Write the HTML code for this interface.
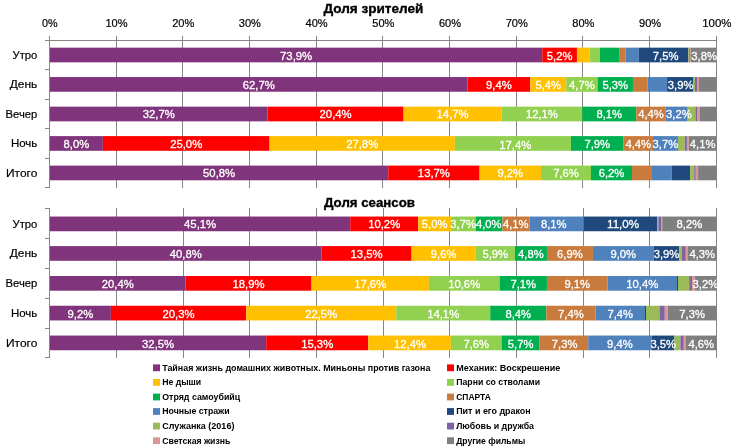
<!DOCTYPE html><html lang="ru"><head><meta charset="utf-8"><title>Доля зрителей и сеансов</title>
<style>html,body{margin:0;padding:0;background:#fff;overflow:hidden}svg{display:block}text{font-family:"Liberation Sans", sans-serif}text{stroke:#000;stroke-width:.2px}.l{font-size:11.4px;fill:#fff;text-anchor:middle;stroke:#fff;stroke-width:.3px}.t{font-size:13.5px;font-weight:bold;fill:#000;text-anchor:middle;stroke-width:.35px}.g{font-size:9.6px;font-weight:bold;fill:#000;stroke:none}.c{font-size:11.4px;fill:#000;text-anchor:end}.x{font-size:11.4px;fill:#000;text-anchor:middle}</style></head><body>
<svg width="733" height="448" viewBox="0 0 733 448">
<rect width="733" height="448" fill="#fff"/>
<text class="t" x="373.4" y="12.8" textLength="100" lengthAdjust="spacingAndGlyphs">Доля зрителей</text>
<text class="x" x="49.8" y="27" textLength="15.6" lengthAdjust="spacingAndGlyphs">0%</text>
<text class="x" x="116.5" y="27" textLength="22.1" lengthAdjust="spacingAndGlyphs">10%</text>
<text class="x" x="183.2" y="27" textLength="22.1" lengthAdjust="spacingAndGlyphs">20%</text>
<text class="x" x="249.9" y="27" textLength="22.1" lengthAdjust="spacingAndGlyphs">30%</text>
<text class="x" x="316.6" y="27" textLength="22.1" lengthAdjust="spacingAndGlyphs">40%</text>
<text class="x" x="383.3" y="27" textLength="22.1" lengthAdjust="spacingAndGlyphs">50%</text>
<text class="x" x="450.0" y="27" textLength="22.1" lengthAdjust="spacingAndGlyphs">60%</text>
<text class="x" x="516.7" y="27" textLength="22.1" lengthAdjust="spacingAndGlyphs">70%</text>
<text class="x" x="583.4" y="27" textLength="22.1" lengthAdjust="spacingAndGlyphs">80%</text>
<text class="x" x="650.1" y="27" textLength="22.1" lengthAdjust="spacingAndGlyphs">90%</text>
<text class="x" x="716.8" y="27" textLength="29.2" lengthAdjust="spacingAndGlyphs">100%</text>
<line x1="49.5" y1="36.0" x2="49.5" y2="188.0" stroke="#868686" stroke-width="1"/>
<line x1="116.5" y1="36.0" x2="116.5" y2="188.0" stroke="#868686" stroke-width="1"/>
<line x1="182.5" y1="36.0" x2="182.5" y2="188.0" stroke="#868686" stroke-width="1"/>
<line x1="249.5" y1="36.0" x2="249.5" y2="188.0" stroke="#868686" stroke-width="1"/>
<line x1="316.5" y1="36.0" x2="316.5" y2="188.0" stroke="#868686" stroke-width="1"/>
<line x1="382.5" y1="36.0" x2="382.5" y2="188.0" stroke="#868686" stroke-width="1"/>
<line x1="449.5" y1="36.0" x2="449.5" y2="188.0" stroke="#868686" stroke-width="1"/>
<line x1="516.5" y1="36.0" x2="516.5" y2="188.0" stroke="#868686" stroke-width="1"/>
<line x1="582.5" y1="36.0" x2="582.5" y2="188.0" stroke="#868686" stroke-width="1"/>
<line x1="649.5" y1="36.0" x2="649.5" y2="188.0" stroke="#868686" stroke-width="1"/>
<line x1="716.5" y1="36.0" x2="716.5" y2="188.0" stroke="#868686" stroke-width="1"/>
<line x1="49" y1="40.5" x2="717" y2="40.5" stroke="#868686" stroke-width="1"/>
<line x1="45" y1="40.5" x2="50" y2="40.5" stroke="#868686" stroke-width="1"/>
<line x1="45" y1="69.5" x2="50" y2="69.5" stroke="#868686" stroke-width="1"/>
<line x1="45" y1="99.5" x2="50" y2="99.5" stroke="#868686" stroke-width="1"/>
<line x1="45" y1="128.5" x2="50" y2="128.5" stroke="#868686" stroke-width="1"/>
<line x1="45" y1="158.5" x2="50" y2="158.5" stroke="#868686" stroke-width="1"/>
<line x1="45" y1="187.5" x2="50" y2="187.5" stroke="#868686" stroke-width="1"/>
<rect x="50.00" y="47.65" width="492.27" height="14.7" fill="#80347B"/>
<rect x="542.27" y="47.65" width="34.67" height="14.7" fill="#FF0000"/>
<rect x="576.94" y="47.65" width="12.66" height="14.7" fill="#FFC000"/>
<rect x="589.60" y="47.65" width="10.30" height="14.7" fill="#92D050"/>
<rect x="599.90" y="47.65" width="19.20" height="14.7" fill="#00B050"/>
<rect x="619.10" y="47.65" width="6.30" height="14.7" fill="#C87B3C"/>
<rect x="625.40" y="47.65" width="13.40" height="14.7" fill="#4F81BD"/>
<rect x="638.80" y="47.65" width="49.60" height="14.7" fill="#1F497D"/>
<rect x="688.40" y="47.65" width="0.80" height="14.7" fill="#9BBB59"/>
<rect x="689.20" y="47.65" width="0.80" height="14.7" fill="#8064A2"/>
<rect x="690.00" y="47.65" width="0.90" height="14.7" fill="#D99694"/>
<rect x="690.90" y="47.65" width="25.60" height="14.7" fill="#7F7F7F"/>
<text class="l" x="296.1" y="60.0" textLength="32.1" lengthAdjust="spacingAndGlyphs">73,9%</text>
<text class="l" x="559.6" y="60.0" textLength="25.6" lengthAdjust="spacingAndGlyphs">5,2%</text>
<text class="l" x="665.6" y="60.0" textLength="25.6" lengthAdjust="spacingAndGlyphs">7,5%</text>
<text class="l" x="704.1" y="60.0" textLength="25.6" lengthAdjust="spacingAndGlyphs">3,8%</text>
<text class="c" x="37.3" y="59.3" textLength="24.8" lengthAdjust="spacingAndGlyphs">Утро</text>
<rect x="50.00" y="77.05" width="417.58" height="14.7" fill="#80347B"/>
<rect x="467.58" y="77.05" width="62.68" height="14.7" fill="#FF0000"/>
<rect x="530.26" y="77.05" width="36.01" height="14.7" fill="#FFC000"/>
<rect x="566.27" y="77.05" width="31.34" height="14.7" fill="#92D050"/>
<rect x="597.61" y="77.05" width="35.34" height="14.7" fill="#00B050"/>
<rect x="632.95" y="77.05" width="14.55" height="14.7" fill="#C87B3C"/>
<rect x="647.50" y="77.05" width="19.60" height="14.7" fill="#4F81BD"/>
<rect x="667.10" y="77.05" width="25.90" height="14.7" fill="#1F497D"/>
<rect x="693.00" y="77.05" width="2.00" height="14.7" fill="#9BBB59"/>
<rect x="695.00" y="77.05" width="2.00" height="14.7" fill="#8064A2"/>
<rect x="697.00" y="77.05" width="2.00" height="14.7" fill="#D99694"/>
<rect x="699.00" y="77.05" width="17.50" height="14.7" fill="#7F7F7F"/>
<text class="l" x="258.8" y="89.0" textLength="32.1" lengthAdjust="spacingAndGlyphs">62,7%</text>
<text class="l" x="498.9" y="89.0" textLength="25.6" lengthAdjust="spacingAndGlyphs">9,4%</text>
<text class="l" x="548.3" y="89.0" textLength="25.6" lengthAdjust="spacingAndGlyphs">5,4%</text>
<text class="l" x="581.9" y="89.0" textLength="25.6" lengthAdjust="spacingAndGlyphs">4,7%</text>
<text class="l" x="615.3" y="89.0" textLength="25.6" lengthAdjust="spacingAndGlyphs">5,3%</text>
<text class="l" x="680.6" y="89.0" textLength="25.6" lengthAdjust="spacingAndGlyphs">3,9%</text>
<text class="c" x="37.3" y="87.8" textLength="27.6" lengthAdjust="spacingAndGlyphs">День</text>
<rect x="50.00" y="106.65" width="217.54" height="14.7" fill="#80347B"/>
<rect x="267.54" y="106.65" width="136.03" height="14.7" fill="#FF0000"/>
<rect x="403.57" y="106.65" width="98.02" height="14.7" fill="#FFC000"/>
<rect x="501.59" y="106.65" width="80.68" height="14.7" fill="#92D050"/>
<rect x="582.27" y="106.65" width="54.01" height="14.7" fill="#00B050"/>
<rect x="636.28" y="106.65" width="29.34" height="14.7" fill="#C87B3C"/>
<rect x="665.62" y="106.65" width="21.88" height="14.7" fill="#4F81BD"/>
<rect x="687.50" y="106.65" width="0.20" height="14.7" fill="#1F497D"/>
<rect x="687.70" y="106.65" width="7.70" height="14.7" fill="#9BBB59"/>
<rect x="695.40" y="106.65" width="1.60" height="14.7" fill="#8064A2"/>
<rect x="697.00" y="106.65" width="3.00" height="14.7" fill="#D99694"/>
<rect x="700.00" y="106.65" width="16.50" height="14.7" fill="#7F7F7F"/>
<text class="l" x="158.8" y="118.0" textLength="32.1" lengthAdjust="spacingAndGlyphs">32,7%</text>
<text class="l" x="335.6" y="118.0" textLength="32.1" lengthAdjust="spacingAndGlyphs">20,4%</text>
<text class="l" x="452.6" y="118.0" textLength="32.1" lengthAdjust="spacingAndGlyphs">14,7%</text>
<text class="l" x="541.9" y="118.0" textLength="32.1" lengthAdjust="spacingAndGlyphs">12,1%</text>
<text class="l" x="609.3" y="118.0" textLength="25.6" lengthAdjust="spacingAndGlyphs">8,1%</text>
<text class="l" x="651.0" y="118.0" textLength="25.6" lengthAdjust="spacingAndGlyphs">4,4%</text>
<text class="l" x="678.9" y="118.0" textLength="25.6" lengthAdjust="spacingAndGlyphs">3,2%</text>
<text class="c" x="37.3" y="118.1" textLength="31.8" lengthAdjust="spacingAndGlyphs">Вечер</text>
<rect x="50.00" y="136.10" width="52.84" height="14.7" fill="#80347B"/>
<rect x="102.84" y="136.10" width="166.70" height="14.7" fill="#FF0000"/>
<rect x="269.54" y="136.10" width="185.37" height="14.7" fill="#FFC000"/>
<rect x="454.91" y="136.10" width="116.02" height="14.7" fill="#92D050"/>
<rect x="570.94" y="136.10" width="52.68" height="14.7" fill="#00B050"/>
<rect x="623.61" y="136.10" width="29.34" height="14.7" fill="#C87B3C"/>
<rect x="652.95" y="136.10" width="24.95" height="14.7" fill="#4F81BD"/>
<rect x="677.90" y="136.10" width="0.10" height="14.7" fill="#1F497D"/>
<rect x="678.00" y="136.10" width="6.80" height="14.7" fill="#9BBB59"/>
<rect x="684.80" y="136.10" width="2.10" height="14.7" fill="#8064A2"/>
<rect x="686.90" y="136.10" width="1.90" height="14.7" fill="#D99694"/>
<rect x="688.80" y="136.10" width="27.70" height="14.7" fill="#7F7F7F"/>
<text class="l" x="76.4" y="148.0" textLength="25.6" lengthAdjust="spacingAndGlyphs">8,0%</text>
<text class="l" x="186.2" y="148.0" textLength="32.1" lengthAdjust="spacingAndGlyphs">25,0%</text>
<text class="l" x="362.2" y="148.0" textLength="32.1" lengthAdjust="spacingAndGlyphs">27,8%</text>
<text class="l" x="515.3" y="149.0" textLength="32.1" lengthAdjust="spacingAndGlyphs">17,4%</text>
<text class="l" x="597.3" y="148.0" textLength="25.6" lengthAdjust="spacingAndGlyphs">7,9%</text>
<text class="l" x="638.3" y="148.0" textLength="25.6" lengthAdjust="spacingAndGlyphs">4,4%</text>
<text class="l" x="665.4" y="148.0" textLength="25.6" lengthAdjust="spacingAndGlyphs">3,7%</text>
<text class="l" x="702.6" y="148.0" textLength="25.6" lengthAdjust="spacingAndGlyphs">4,1%</text>
<text class="c" x="37.3" y="146.7" textLength="26.4" lengthAdjust="spacingAndGlyphs">Ночь</text>
<rect x="50.00" y="165.60" width="338.23" height="14.7" fill="#80347B"/>
<rect x="388.23" y="165.60" width="91.35" height="14.7" fill="#FF0000"/>
<rect x="479.59" y="165.60" width="61.35" height="14.7" fill="#FFC000"/>
<rect x="540.93" y="165.60" width="50.07" height="14.7" fill="#92D050"/>
<rect x="591.00" y="165.60" width="41.00" height="14.7" fill="#00B050"/>
<rect x="632.00" y="165.60" width="20.00" height="14.7" fill="#C87B3C"/>
<rect x="652.00" y="165.60" width="19.80" height="14.7" fill="#4F81BD"/>
<rect x="671.80" y="165.60" width="18.30" height="14.7" fill="#1F497D"/>
<rect x="690.10" y="165.60" width="4.10" height="14.7" fill="#9BBB59"/>
<rect x="694.20" y="165.60" width="1.60" height="14.7" fill="#8064A2"/>
<rect x="695.80" y="165.60" width="2.30" height="14.7" fill="#D99694"/>
<rect x="698.10" y="165.60" width="18.40" height="14.7" fill="#7F7F7F"/>
<text class="l" x="219.1" y="177.0" textLength="32.1" lengthAdjust="spacingAndGlyphs">50,8%</text>
<text class="l" x="433.9" y="177.0" textLength="32.1" lengthAdjust="spacingAndGlyphs">13,7%</text>
<text class="l" x="510.3" y="177.0" textLength="25.6" lengthAdjust="spacingAndGlyphs">9,2%</text>
<text class="l" x="566.0" y="177.0" textLength="25.6" lengthAdjust="spacingAndGlyphs">7,6%</text>
<text class="l" x="611.5" y="177.0" textLength="25.6" lengthAdjust="spacingAndGlyphs">6,2%</text>
<text class="c" x="37.3" y="176.9" textLength="31.3" lengthAdjust="spacingAndGlyphs">Итого</text>
<text class="t" x="369.5" y="206.8" textLength="91" lengthAdjust="spacingAndGlyphs">Доля сеансов</text>
<line x1="49.5" y1="208.0" x2="49.5" y2="358.0" stroke="#868686" stroke-width="1"/>
<line x1="116.5" y1="208.0" x2="116.5" y2="358.0" stroke="#868686" stroke-width="1"/>
<line x1="183.5" y1="208.0" x2="183.5" y2="358.0" stroke="#868686" stroke-width="1"/>
<line x1="249.5" y1="208.0" x2="249.5" y2="358.0" stroke="#868686" stroke-width="1"/>
<line x1="316.5" y1="208.0" x2="316.5" y2="358.0" stroke="#868686" stroke-width="1"/>
<line x1="383.5" y1="208.0" x2="383.5" y2="358.0" stroke="#868686" stroke-width="1"/>
<line x1="449.5" y1="208.0" x2="449.5" y2="358.0" stroke="#868686" stroke-width="1"/>
<line x1="516.5" y1="208.0" x2="516.5" y2="358.0" stroke="#868686" stroke-width="1"/>
<line x1="583.5" y1="208.0" x2="583.5" y2="358.0" stroke="#868686" stroke-width="1"/>
<line x1="649.5" y1="208.0" x2="649.5" y2="358.0" stroke="#868686" stroke-width="1"/>
<line x1="716.5" y1="208.0" x2="716.5" y2="358.0" stroke="#868686" stroke-width="1"/>
<line x1="45" y1="208.5" x2="50" y2="208.5" stroke="#868686" stroke-width="1"/>
<line x1="45" y1="238.5" x2="50" y2="238.5" stroke="#868686" stroke-width="1"/>
<line x1="45" y1="268.5" x2="50" y2="268.5" stroke="#868686" stroke-width="1"/>
<line x1="45" y1="298.5" x2="50" y2="298.5" stroke="#868686" stroke-width="1"/>
<line x1="45" y1="328.5" x2="50" y2="328.5" stroke="#868686" stroke-width="1"/>
<line x1="45" y1="357.5" x2="50" y2="357.5" stroke="#868686" stroke-width="1"/>
<rect x="50.00" y="216.55" width="300.23" height="14.7" fill="#80347B"/>
<rect x="350.23" y="216.55" width="68.01" height="14.7" fill="#FF0000"/>
<rect x="418.24" y="216.55" width="32.76" height="14.7" fill="#FFC000"/>
<rect x="451.00" y="216.55" width="24.80" height="14.7" fill="#92D050"/>
<rect x="475.80" y="216.55" width="26.60" height="14.7" fill="#00B050"/>
<rect x="502.40" y="216.55" width="27.20" height="14.7" fill="#C87B3C"/>
<rect x="529.60" y="216.55" width="54.10" height="14.7" fill="#4F81BD"/>
<rect x="583.70" y="216.55" width="73.40" height="14.7" fill="#1F497D"/>
<rect x="657.10" y="216.55" width="1.20" height="14.7" fill="#9BBB59"/>
<rect x="658.30" y="216.55" width="2.70" height="14.7" fill="#8064A2"/>
<rect x="661.00" y="216.55" width="1.20" height="14.7" fill="#D99694"/>
<rect x="662.20" y="216.55" width="54.30" height="14.7" fill="#7F7F7F"/>
<text class="l" x="200.1" y="228.0" textLength="32.1" lengthAdjust="spacingAndGlyphs">45,1%</text>
<text class="l" x="384.2" y="228.0" textLength="32.1" lengthAdjust="spacingAndGlyphs">10,2%</text>
<text class="l" x="434.6" y="228.0" textLength="25.6" lengthAdjust="spacingAndGlyphs">5,0%</text>
<text class="l" x="463.1" y="228.0" textLength="25.6" lengthAdjust="spacingAndGlyphs">3,7%</text>
<text class="l" x="488.8" y="228.0" textLength="25.6" lengthAdjust="spacingAndGlyphs">4,0%</text>
<text class="l" x="515.7" y="228.0" textLength="25.6" lengthAdjust="spacingAndGlyphs">4,1%</text>
<text class="l" x="553.7" y="228.0" textLength="25.6" lengthAdjust="spacingAndGlyphs">8,1%</text>
<text class="l" x="623.1" y="228.0" textLength="32.1" lengthAdjust="spacingAndGlyphs">11,0%</text>
<text class="l" x="689.4" y="228.0" textLength="25.6" lengthAdjust="spacingAndGlyphs">8,2%</text>
<text class="c" x="37.3" y="227.5" textLength="24.8" lengthAdjust="spacingAndGlyphs">Утро</text>
<rect x="50.00" y="246.10" width="271.55" height="14.7" fill="#80347B"/>
<rect x="321.55" y="246.10" width="90.02" height="14.7" fill="#FF0000"/>
<rect x="411.57" y="246.10" width="64.01" height="14.7" fill="#FFC000"/>
<rect x="475.59" y="246.10" width="39.34" height="14.7" fill="#92D050"/>
<rect x="514.93" y="246.10" width="32.01" height="14.7" fill="#00B050"/>
<rect x="546.93" y="246.10" width="46.01" height="14.7" fill="#C87B3C"/>
<rect x="592.94" y="246.10" width="60.76" height="14.7" fill="#4F81BD"/>
<rect x="653.70" y="246.10" width="25.50" height="14.7" fill="#1F497D"/>
<rect x="679.20" y="246.10" width="2.60" height="14.7" fill="#9BBB59"/>
<rect x="681.80" y="246.10" width="4.00" height="14.7" fill="#8064A2"/>
<rect x="685.80" y="246.10" width="2.20" height="14.7" fill="#D99694"/>
<rect x="688.00" y="246.10" width="28.50" height="14.7" fill="#7F7F7F"/>
<text class="l" x="185.8" y="258.0" textLength="32.1" lengthAdjust="spacingAndGlyphs">40,8%</text>
<text class="l" x="366.6" y="258.0" textLength="32.1" lengthAdjust="spacingAndGlyphs">13,5%</text>
<text class="l" x="443.6" y="258.0" textLength="25.6" lengthAdjust="spacingAndGlyphs">9,6%</text>
<text class="l" x="495.3" y="258.0" textLength="25.6" lengthAdjust="spacingAndGlyphs">5,9%</text>
<text class="l" x="530.9" y="258.0" textLength="25.6" lengthAdjust="spacingAndGlyphs">4,8%</text>
<text class="l" x="569.9" y="258.0" textLength="25.6" lengthAdjust="spacingAndGlyphs">6,9%</text>
<text class="l" x="623.3" y="258.0" textLength="25.6" lengthAdjust="spacingAndGlyphs">9,0%</text>
<text class="l" x="666.5" y="258.0" textLength="25.6" lengthAdjust="spacingAndGlyphs">3,9%</text>
<text class="l" x="702.2" y="258.0" textLength="25.6" lengthAdjust="spacingAndGlyphs">4,3%</text>
<text class="c" x="37.3" y="257.4" textLength="27.6" lengthAdjust="spacingAndGlyphs">День</text>
<rect x="50.00" y="276.00" width="135.53" height="14.7" fill="#80347B"/>
<rect x="185.53" y="276.00" width="126.03" height="14.7" fill="#FF0000"/>
<rect x="311.55" y="276.00" width="117.36" height="14.7" fill="#FFC000"/>
<rect x="428.91" y="276.00" width="70.68" height="14.7" fill="#92D050"/>
<rect x="499.59" y="276.00" width="47.34" height="14.7" fill="#00B050"/>
<rect x="546.93" y="276.00" width="60.68" height="14.7" fill="#C87B3C"/>
<rect x="607.61" y="276.00" width="69.39" height="14.7" fill="#4F81BD"/>
<rect x="677.00" y="276.00" width="1.00" height="14.7" fill="#1F497D"/>
<rect x="678.00" y="276.00" width="11.20" height="14.7" fill="#9BBB59"/>
<rect x="689.20" y="276.00" width="2.90" height="14.7" fill="#8064A2"/>
<rect x="692.10" y="276.00" width="2.70" height="14.7" fill="#D99694"/>
<rect x="694.80" y="276.00" width="21.70" height="14.7" fill="#7F7F7F"/>
<text class="l" x="117.8" y="288.0" textLength="32.1" lengthAdjust="spacingAndGlyphs">20,4%</text>
<text class="l" x="248.5" y="288.0" textLength="32.1" lengthAdjust="spacingAndGlyphs">18,9%</text>
<text class="l" x="370.2" y="288.0" textLength="32.1" lengthAdjust="spacingAndGlyphs">17,6%</text>
<text class="l" x="464.2" y="288.0" textLength="32.1" lengthAdjust="spacingAndGlyphs">10,6%</text>
<text class="l" x="523.3" y="288.0" textLength="25.6" lengthAdjust="spacingAndGlyphs">7,1%</text>
<text class="l" x="577.3" y="288.0" textLength="25.6" lengthAdjust="spacingAndGlyphs">9,1%</text>
<text class="l" x="642.3" y="288.0" textLength="32.1" lengthAdjust="spacingAndGlyphs">10,4%</text>
<text class="l" x="705.4" y="288.0" textLength="25.6" lengthAdjust="spacingAndGlyphs">3,2%</text>
<text class="c" x="37.3" y="287.3" textLength="31.8" lengthAdjust="spacingAndGlyphs">Вечер</text>
<rect x="50.00" y="305.75" width="60.85" height="14.7" fill="#80347B"/>
<rect x="110.85" y="305.75" width="135.36" height="14.7" fill="#FF0000"/>
<rect x="246.21" y="305.75" width="150.03" height="14.7" fill="#FFC000"/>
<rect x="396.24" y="305.75" width="94.02" height="14.7" fill="#92D050"/>
<rect x="490.25" y="305.75" width="56.01" height="14.7" fill="#00B050"/>
<rect x="546.27" y="305.75" width="49.34" height="14.7" fill="#C87B3C"/>
<rect x="595.61" y="305.75" width="49.39" height="14.7" fill="#4F81BD"/>
<rect x="645.00" y="305.75" width="1.00" height="14.7" fill="#1F497D"/>
<rect x="646.00" y="305.75" width="13.50" height="14.7" fill="#9BBB59"/>
<rect x="659.50" y="305.75" width="5.30" height="14.7" fill="#8064A2"/>
<rect x="664.80" y="305.75" width="3.00" height="14.7" fill="#D99694"/>
<rect x="667.80" y="305.75" width="48.70" height="14.7" fill="#7F7F7F"/>
<text class="l" x="80.4" y="318.0" textLength="25.6" lengthAdjust="spacingAndGlyphs">9,2%</text>
<text class="l" x="178.5" y="318.0" textLength="32.1" lengthAdjust="spacingAndGlyphs">20,3%</text>
<text class="l" x="321.2" y="318.0" textLength="32.1" lengthAdjust="spacingAndGlyphs">22,5%</text>
<text class="l" x="443.2" y="318.0" textLength="32.1" lengthAdjust="spacingAndGlyphs">14,1%</text>
<text class="l" x="518.3" y="318.0" textLength="25.6" lengthAdjust="spacingAndGlyphs">8,4%</text>
<text class="l" x="570.9" y="318.0" textLength="25.6" lengthAdjust="spacingAndGlyphs">7,4%</text>
<text class="l" x="620.3" y="318.0" textLength="25.6" lengthAdjust="spacingAndGlyphs">7,4%</text>
<text class="l" x="692.1" y="318.0" textLength="25.6" lengthAdjust="spacingAndGlyphs">7,3%</text>
<text class="c" x="37.3" y="317.2" textLength="26.4" lengthAdjust="spacingAndGlyphs">Ночь</text>
<rect x="50.00" y="335.55" width="216.21" height="14.7" fill="#80347B"/>
<rect x="266.21" y="335.55" width="102.02" height="14.7" fill="#FF0000"/>
<rect x="368.23" y="335.55" width="82.68" height="14.7" fill="#FFC000"/>
<rect x="450.91" y="335.55" width="50.68" height="14.7" fill="#92D050"/>
<rect x="501.59" y="335.55" width="38.01" height="14.7" fill="#00B050"/>
<rect x="539.60" y="335.55" width="48.68" height="14.7" fill="#C87B3C"/>
<rect x="588.27" y="335.55" width="63.33" height="14.7" fill="#4F81BD"/>
<rect x="651.60" y="335.55" width="22.80" height="14.7" fill="#1F497D"/>
<rect x="674.40" y="335.55" width="6.00" height="14.7" fill="#9BBB59"/>
<rect x="680.40" y="335.55" width="3.40" height="14.7" fill="#8064A2"/>
<rect x="683.80" y="335.55" width="2.20" height="14.7" fill="#D99694"/>
<rect x="686.00" y="335.55" width="30.50" height="14.7" fill="#7F7F7F"/>
<text class="l" x="158.1" y="348.0" textLength="32.1" lengthAdjust="spacingAndGlyphs">32,5%</text>
<text class="l" x="317.2" y="348.0" textLength="32.1" lengthAdjust="spacingAndGlyphs">15,3%</text>
<text class="l" x="410.0" y="348.0" textLength="32.1" lengthAdjust="spacingAndGlyphs">12,4%</text>
<text class="l" x="476.3" y="348.0" textLength="25.6" lengthAdjust="spacingAndGlyphs">7,6%</text>
<text class="l" x="520.6" y="348.0" textLength="25.6" lengthAdjust="spacingAndGlyphs">5,7%</text>
<text class="l" x="564.6" y="348.0" textLength="25.6" lengthAdjust="spacingAndGlyphs">7,3%</text>
<text class="l" x="619.9" y="348.0" textLength="25.6" lengthAdjust="spacingAndGlyphs">9,4%</text>
<text class="l" x="663.3" y="348.0" textLength="25.6" lengthAdjust="spacingAndGlyphs">3,5%</text>
<text class="l" x="701.2" y="348.0" textLength="25.6" lengthAdjust="spacingAndGlyphs">4,6%</text>
<text class="c" x="37.3" y="347.1" textLength="31.3" lengthAdjust="spacingAndGlyphs">Итого</text>
<rect x="153" y="364.4" width="7" height="6.8" fill="#80347B"/>
<text class="g" x="162.2" y="370.7" textLength="268.2" lengthAdjust="spacingAndGlyphs">Тайная жизнь домашних животных. Миньоны против газона</text>
<rect x="447" y="364.4" width="7" height="6.8" fill="#FF0000"/>
<text class="g" x="456.2" y="370.7" textLength="104.2" lengthAdjust="spacingAndGlyphs">Механик: Воскрешение</text>
<rect x="153" y="379.0" width="7" height="6.8" fill="#FFC000"/>
<text class="g" x="162.2" y="385.3" textLength="39.0" lengthAdjust="spacingAndGlyphs">Не дыши</text>
<rect x="447" y="379.0" width="7" height="6.8" fill="#92D050"/>
<text class="g" x="456.2" y="385.3" textLength="83.9" lengthAdjust="spacingAndGlyphs">Парни со стволами</text>
<rect x="153" y="393.6" width="7" height="6.8" fill="#00B050"/>
<text class="g" x="162.2" y="399.9" textLength="78.0" lengthAdjust="spacingAndGlyphs">Отряд самоубийц</text>
<rect x="447" y="393.6" width="7" height="6.8" fill="#C87B3C"/>
<text class="g" x="456.2" y="399.9" textLength="34.6" lengthAdjust="spacingAndGlyphs">СПАРТА</text>
<rect x="153" y="408.1" width="7" height="6.8" fill="#4F81BD"/>
<text class="g" x="162.2" y="414.4" textLength="67.5" lengthAdjust="spacingAndGlyphs">Ночные стражи</text>
<rect x="447" y="408.1" width="7" height="6.8" fill="#1F497D"/>
<text class="g" x="456.2" y="414.4" textLength="74.5" lengthAdjust="spacingAndGlyphs">Пит и его дракон</text>
<rect x="153" y="422.7" width="7" height="6.8" fill="#9BBB59"/>
<text class="g" x="162.2" y="429.0" textLength="72.2" lengthAdjust="spacingAndGlyphs">Служанка (2016)</text>
<rect x="447" y="422.7" width="7" height="6.8" fill="#8064A2"/>
<text class="g" x="456.2" y="429.0" textLength="77.8" lengthAdjust="spacingAndGlyphs">Любовь и дружба</text>
<rect x="153" y="437.3" width="7" height="6.8" fill="#D99694"/>
<text class="g" x="162.2" y="443.6" textLength="68.1" lengthAdjust="spacingAndGlyphs">Светская жизнь</text>
<rect x="447" y="437.3" width="7" height="6.8" fill="#7F7F7F"/>
<text class="g" x="456.2" y="443.6" textLength="69.1" lengthAdjust="spacingAndGlyphs">Другие фильмы</text>
</svg></body></html>
